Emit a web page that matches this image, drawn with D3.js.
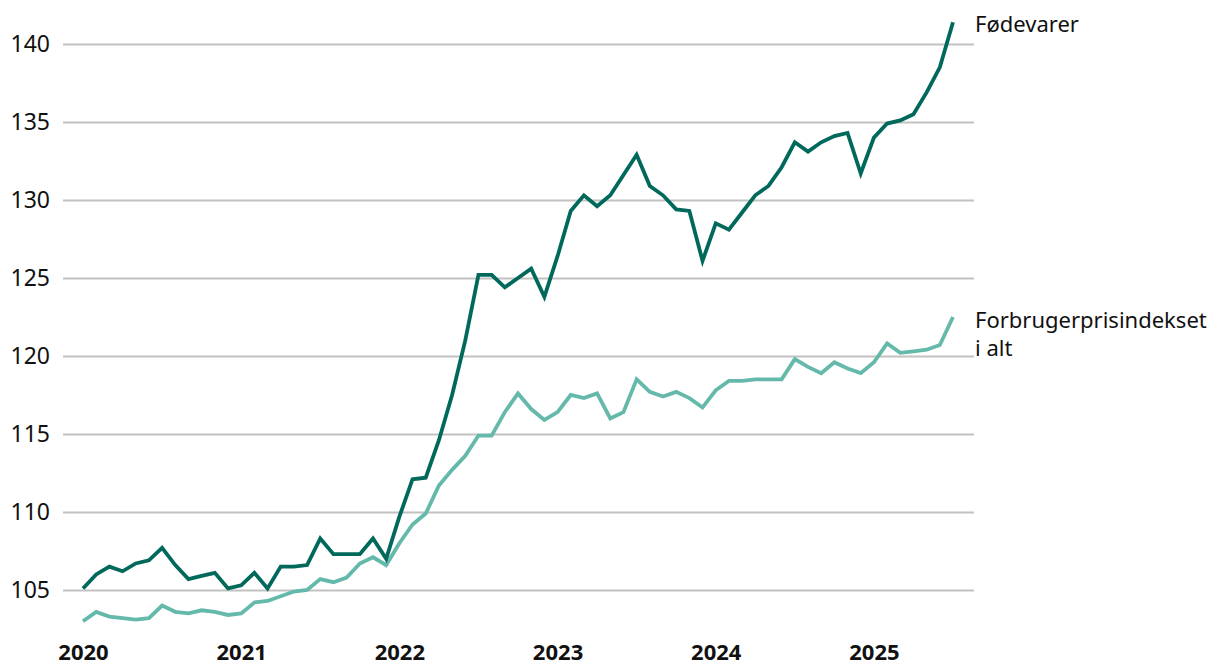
<!DOCTYPE html>
<html>
<head>
<meta charset="utf-8">
<script src="https://cdn.jsdelivr.net/npm/d3@7"></script>
<style>
  html, body { margin: 0; padding: 0; background: #ffffff; }
  svg { display: block; }
</style>
</head>
<body>
<svg id="chart" width="1220" height="672"></svg>
<script>
// ---- data (monthly, Jan 2020 – Jul 2025) ----
const startYear = 2020;
const yearLabels = ["2020", "2021", "2022", "2023", "2024", "2025"];
const yTicks = [105, 110, 115, 120, 125, 130, 135, 140];

const seriesNames = ["Fødevarer", "Forbrugerprisindekset i alt"];

const foodValues = [
  105.1, 106.0, 106.5, 106.2, 106.7, 106.9, 107.7, 106.6, 105.7, 105.9, 106.1, 105.1,
  105.3, 106.1, 105.1, 106.5, 106.5, 106.6, 108.3, 107.3, 107.3, 107.3, 108.3, 107.0,
  109.7, 112.1, 112.2, 114.6, 117.5, 121.0, 125.2, 125.2, 124.4, 125.0, 125.6, 123.8,
  126.4, 129.3, 130.3, 129.6, 130.3, 131.6, 132.9, 130.9, 130.3, 129.4, 129.3, 126.1,
  128.5, 128.1, 129.2, 130.3, 130.9, 132.1, 133.7, 133.1, 133.7, 134.1, 134.3, 131.7,
  134.0, 134.9, 135.1, 135.5, 136.9, 138.5, 141.4
];

const cpiValues = [
  103.0, 103.6, 103.3, 103.2, 103.1, 103.2, 104.0, 103.6, 103.5, 103.7, 103.6, 103.4,
  103.5, 104.2, 104.3, 104.6, 104.9, 105.0, 105.7, 105.5, 105.8, 106.7, 107.1, 106.6,
  108.0, 109.2, 109.9, 111.7, 112.7, 113.6, 114.9, 114.9, 116.4, 117.6, 116.6, 115.9,
  116.4, 117.5, 117.3, 117.6, 116.0, 116.4, 118.5, 117.7, 117.4, 117.7, 117.3, 116.7,
  117.8, 118.4, 118.4, 118.5, 118.5, 118.5, 119.8, 119.3, 118.9, 119.6, 119.2, 118.9,
  119.6, 120.8, 120.2, 120.3, 120.4, 120.7, 122.5
];

// ---- layout ----
const svg = d3.select("#chart");
const gridLeft = 63, gridRight = 974;
const xStart = 83, xEnd = 953;
const yTop = 44, yBottom = 590;

const x = d3.scaleLinear().domain([0, foodValues.length - 1]).range([xStart, xEnd]);
const y = d3.scaleLinear().domain([140, 105]).range([yTop, yBottom]);

const colorFood = "#00695b";
const colorCpi = "#64b9aa";
const fontFam = "'Noto Sans', 'Open Sans', sans-serif";

// y grid + labels
const yAxis = d3.axisLeft(y)
  .tickValues(yTicks)
  .tickSize(-(gridRight - gridLeft))
  .tickPadding(13)
  .tickFormat(d3.format("d"));

const gy = svg.append("g")
  .attr("transform", `translate(${gridLeft},0)`)
  .call(yAxis);
gy.select(".domain").remove();
gy.selectAll(".tick line").attr("stroke", "#c2c2c2").attr("stroke-width", 2);
gy.selectAll(".tick text")
  .attr("fill", "#111")
  .style("font-family", fontFam)
  .style("font-size", "23px");

// x axis (year labels)
const xAxis = d3.axisBottom(x)
  .tickValues(yearLabels.map((_, i) => i * 12))
  .tickSize(0)
  .tickPadding(0)
  .tickFormat((d, i) => yearLabels[i]);

const gx = svg.append("g")
  .attr("transform", `translate(0,${644})`)
  .call(xAxis);
gx.select(".domain").remove();
gx.selectAll(".tick text")
  .attr("fill", "#111")
  .attr("dy", "0.71em")
  .style("font-family", fontFam)
  .style("font-weight", "bold")
  .style("font-size", "22px");

// lines
const line = d3.line().x((d, i) => x(i)).y(d => y(d));

svg.append("path")
  .datum(cpiValues)
  .attr("fill", "none")
  .attr("stroke", colorCpi)
  .attr("stroke-width", 3.8)
  .attr("stroke-linejoin", "miter")
  .attr("d", line);

svg.append("path")
  .datum(foodValues)
  .attr("fill", "none")
  .attr("stroke", colorFood)
  .attr("stroke-width", 3.8)
  .attr("stroke-linejoin", "miter")
  .attr("d", line);

// series labels
svg.append("text")
  .attr("x", 975).attr("y", 32)
  .attr("fill", "#111")
  .style("font-family", fontFam)
  .style("font-size", "22px")
  .text(seriesNames[0]);

const cpiLabel = svg.append("text")
  .attr("x", 975).attr("y", 328)
  .attr("fill", "#111")
  .style("font-family", fontFam)
  .style("font-size", "22px");
cpiLabel.append("tspan").attr("x", 975).text("Forbrugerprisindekset");
cpiLabel.append("tspan").attr("x", 975).attr("dy", 28).text("i alt");
</script>
</body>
</html>
